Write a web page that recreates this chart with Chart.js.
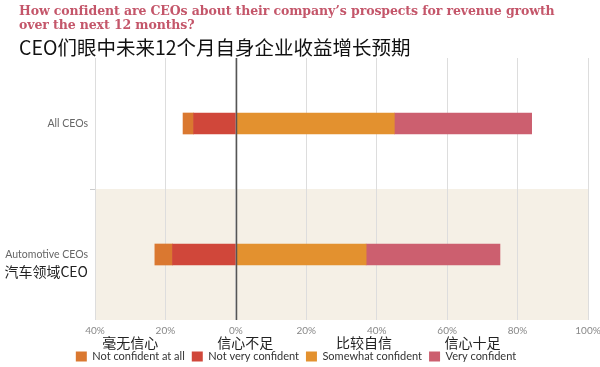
<!DOCTYPE html>
<html>
<head>
<meta charset="utf-8">
<script src="https://cdn.jsdelivr.net/npm/chart.js@4"></script>
<style>
    html, body { margin: 0; padding: 0; background: #fff; }
    #wrap { position: relative; width: 600px; height: 367px; overflow: hidden; }
    #chart { position: absolute; left: 0; top: 0; }
    .title-en {
        position: absolute; left: 19px; top: 4px; margin: 0;
        font: bold 12.5px/13.5px "DejaVu Serif", serif;
        color: #c4566a; letter-spacing: -0.1px;
    }
    .title-zh {
        position: absolute; left: 19px; top: 36px; margin: 0;
        font: 19.5px/22px "Noto Sans CJK SC", sans-serif;
        color: #111;
    }
</style>
</head>
<body>
<div id="wrap">
    <canvas id="chart" width="600" height="367"></canvas>
    <p class="title-en">How confident are CEOs about their company’s prospects for revenue growth<br>over the next 12 months?</p>
    <p class="title-zh">CEO们眼中未来12个月自身企业收益增长预期</p>
</div>
<script>
const categories = ["All CEOs", "Automotive CEOs"];
const categoriesZh = ["", "汽车领域CEO"];

const seriesNames = ["Not confident at all", "Not very confident", "Somewhat confident", "Very confident"];
const seriesNamesZh = ["毫无信心", "信心不足", "比较自信", "信心十足"];
const seriesColors = ["#da7830", "#d0473a", "#e3912f", "#cc5f6f"];

// percent of CEOs
const notConfidentAtAll = [3, 5];
const notVeryConfident = [12, 18];
const somewhatConfident = [45, 37];
const veryConfident = [39, 38];

const xMin = -40;
const xMax = 100;
const xStep = 20;

// negative side is stacked outward from zero, so "not very" goes first
const stackOrder = [1, 0, 2, 3];
const seriesValues = [
    notConfidentAtAll.map(v => -v),
    notVeryConfident.map(v => -v),
    somewhatConfident,
    veryConfident
];

const datasets = stackOrder.map(i => ({
    label: seriesNames[i],
    data: seriesValues[i],
    backgroundColor: seriesColors[i],
    borderWidth: 0,
    barThickness: 21,
    seriesIndex: i
}));

const font = "Lato, 'Open Sans', sans-serif";

const bandPlugin = {
    id: "band",
    beforeDraw(chart) {
        const { ctx, chartArea } = chart;
        const y = chart.scales.y;
        const step = y.getPixelForValue(1) - y.getPixelForValue(0);
        const top = y.getPixelForValue(1) - step / 2;
        ctx.save();
        ctx.fillStyle = "#f5f0e6";
        ctx.fillRect(chartArea.left, top, chartArea.right - chartArea.left, chartArea.bottom - top);
        ctx.restore();
    }
};

const zeroLinePlugin = {
    id: "zeroLine",
    afterDatasetsDraw(chart) {
        const { ctx, chartArea } = chart;
        const x = Math.round(chart.scales.x.getPixelForValue(0)) + 0.5;
        ctx.save();
        ctx.strokeStyle = "#555";
        ctx.lineWidth = 1.5;
        ctx.beginPath();
        ctx.moveTo(x, chartArea.top);
        ctx.lineTo(x, chartArea.bottom);
        ctx.stroke();
        ctx.restore();
    }
};

const chineseLabels = {
    id: "chineseLabels",
    afterDraw(chart) {
        const ctx = chart.ctx;
        ctx.save();
        ctx.fillStyle = "#222";
        ctx.font = "14px 'Noto Sans CJK SC', sans-serif";
        ctx.textBaseline = "middle";

        // under the category tick labels
        const y = chart.scales.y;
        ctx.textAlign = "right";
        categoriesZh.forEach((txt, i) => {
            if (!txt) return;
            ctx.fillText(txt, y.right - 7, y.getPixelForValue(i) + 17);
        });

        // above each legend entry
        const legend = chart.legend;
        ctx.textAlign = "center";
        legend.legendItems.forEach((item, i) => {
            const box = legend.legendHitBoxes[i];
            const idx = chart.data.datasets[item.datasetIndex].seriesIndex;
            ctx.fillText(seriesNamesZh[idx], box.left + box.width / 2, box.top - 8);
        });
        ctx.restore();
    }
};

new Chart(document.getElementById("chart"), {
    type: "bar",
    data: { labels: categories, datasets: datasets },
    options: {
        indexAxis: "y",
        responsive: false,
        animation: false,
        layout: { padding: { left: 4, right: 12, top: 58, bottom: -5 } },
        scales: {
            x: {
                stacked: true,
                min: xMin,
                max: xMax,
                ticks: {
                    stepSize: xStep,
                    padding: 5,
                    color: "#888",
                    font: { family: font, size: 10 },
                    callback: v => Math.abs(v) + "%"
                },
                grid: { color: "#ddd", drawTicks: false },
                border: { display: false },
                afterFit(scale) {
                    scale.height = 24;
                    scale.paddingRight = 0;
                    scale.paddingLeft = 0;
                }
            },
            y: {
                stacked: true,
                ticks: {
                    padding: 2,
                    color: "#666",
                    font: { family: font, size: 10.5 }
                },
                grid: {
                    drawOnChartArea: false,
                    tickLength: 5,
                    color: c => (c.index === 1 ? "#ccc" : "rgba(0,0,0,0)")
                },
                border: { display: false },
                afterFit(scale) { scale.width = 91; }
            }
        },
        plugins: {
            legend: {
                position: "bottom",
                labels: {
                    boxWidth: 11,
                    boxHeight: 10,
                    padding: 7,
                    color: "#333",
                    font: { family: font, size: 11 },
                    sort: (a, b) => datasets[a.datasetIndex].seriesIndex - datasets[b.datasetIndex].seriesIndex
                }
            },
            tooltip: { enabled: false }
        }
    },
    plugins: [bandPlugin, zeroLinePlugin, chineseLabels]
});
</script>
</body>
</html>
